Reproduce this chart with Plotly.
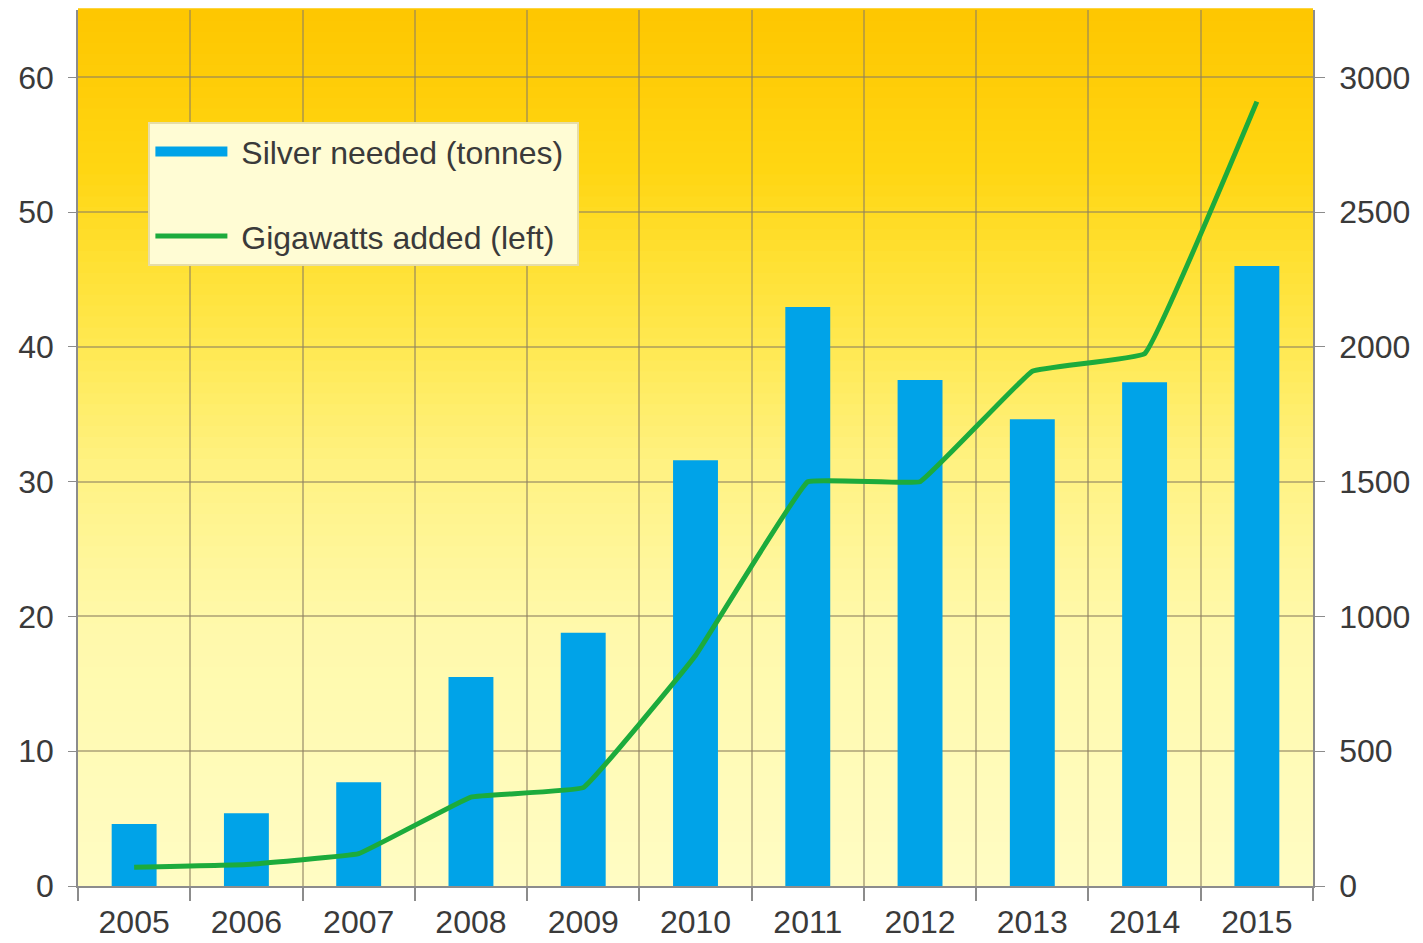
import plotly.graph_objects as go

years = ["2005", "2006", "2007", "2008", "2009", "2010",
         "2011", "2012", "2013", "2014", "2015"]
silver_tonnes = [230, 270, 385, 775, 940, 1580, 2148, 1877, 1732, 1869, 2300]
gigawatts_added = [1.4, 1.6, 2.4, 6.6, 7.3, 17.1, 30.0, 30.0, 38.2, 39.5, 58.2]

left_ticks = [0, 10, 20, 30, 40, 50, 60]
right_ticks = [0, 500, 1000, 1500, 2000, 2500, 3000]

BAR_BLUE = "#00A3E8"
LINE_GREEN = "#1CAB3C"
TEXT = "#3A3A3A"
GRID = "rgba(140,128,96,0.55)"
AXIS = "#8C8C8C"
FONT = "Liberation Sans, Arial, sans-serif"
NB = "\u00a0"

fig = go.Figure()

# tonnes of silver on the base axis "y" (drawn on the right side)
fig.add_trace(go.Bar(
    x=years, y=silver_tonnes, yaxis="y",
    marker=dict(color=BAR_BLUE, line=dict(width=0)),
    showlegend=False, hoverinfo="x+y",
))
# legend-only entry so the bar key is drawn as a wide swatch
fig.add_trace(go.Scatter(
    x=[None], y=[None], mode="lines", name=NB + "Silver needed (tonnes)" + NB,
    line=dict(color=BAR_BLUE, width=14), legendgroup="a", yaxis="y2",
))
# gigawatts on the overlaying left axis so the line sits above the bars
fig.add_trace(go.Scatter(
    x=years, y=gigawatts_added, mode="lines", name=NB + "Gigawatts added (left)",
    line=dict(color=LINE_GREEN, width=5, shape="spline", smoothing=0.2),
    legendgroup="b", yaxis="y2",
))

# vertical gradient behind the plot: deep yellow at the top, pale at the bottom
stops = [(0.0, (255, 252, 196)), (0.30, (255, 249, 170)), (0.48, (255, 242, 130)),
         (0.65, (255, 230, 70)), (0.82, (255, 214, 18)), (1.0, (254, 198, 0))]
n = 80
for i in range(n):
    t0, t1 = i / n, (i + 1) / n
    tm = (t0 + t1) / 2
    for (a, ca), (b, cb) in zip(stops[:-1], stops[1:]):
        if a <= tm <= b:
            f = (tm - a) / (b - a)
            c = tuple(round(ca[k] + (cb[k] - ca[k]) * f) for k in range(3))
            break
    fig.add_shape(type="rect", xref="x domain", yref="y domain",
                  x0=0, x1=1, y0=t0, y1=t1 + 0.002,
                  fillcolor="rgb(%d,%d,%d)" % c, line=dict(width=0), layer="below")

fig.update_layout(
    width=1423, height=943,
    margin=dict(l=78, r=110, t=10, b=57, autoexpand=False),
    paper_bgcolor="white", plot_bgcolor="#FFFCC4",
    font=dict(family=FONT, size=32, color=TEXT),
    bargap=0.6,
    legend=dict(
        x=0.057, y=0.872, xanchor="left", yanchor="top",
        bgcolor="#FFFCD4", bordercolor="#E6DDA8", borderwidth=2,
        font=dict(family=FONT, size=32, color=TEXT),
        itemwidth=72, traceorder="grouped", tracegroupgap=40,
    ),
    xaxis=dict(
        type="category", tickson="boundaries", showgrid=True, gridcolor=GRID,
        gridwidth=1.5, ticks="outside", ticklen=13, tickcolor=AXIS, tickwidth=1.5,
        showline=True, linecolor=AXIS, linewidth=1.5, mirror=False,
        ticklabelstandoff=7, tickfont=dict(size=32, color=TEXT), automargin=False,
    ),
    yaxis=dict(
        range=[0, 3250], tickvals=right_ticks, side="right",
        showgrid=True, gridcolor=GRID, gridwidth=1.5,
        ticks="outside", ticklen=10, tickcolor=AXIS,
        showline=True, linecolor=AXIS, linewidth=1.5, zeroline=False,
        ticklabelstandoff=8, tickfont=dict(size=32, color=TEXT), automargin=False,
    ),
    yaxis2=dict(
        range=[0, 65], tickvals=left_ticks, overlaying="y", side="left",
        showgrid=False, ticks="outside", ticklen=8, tickcolor=AXIS,
        showline=True, linecolor=AXIS, linewidth=1.5, zeroline=False,
        ticklabelstandoff=8, tickfont=dict(size=32, color=TEXT), automargin=False,
    ),
)

fig.write_html("out.html")
